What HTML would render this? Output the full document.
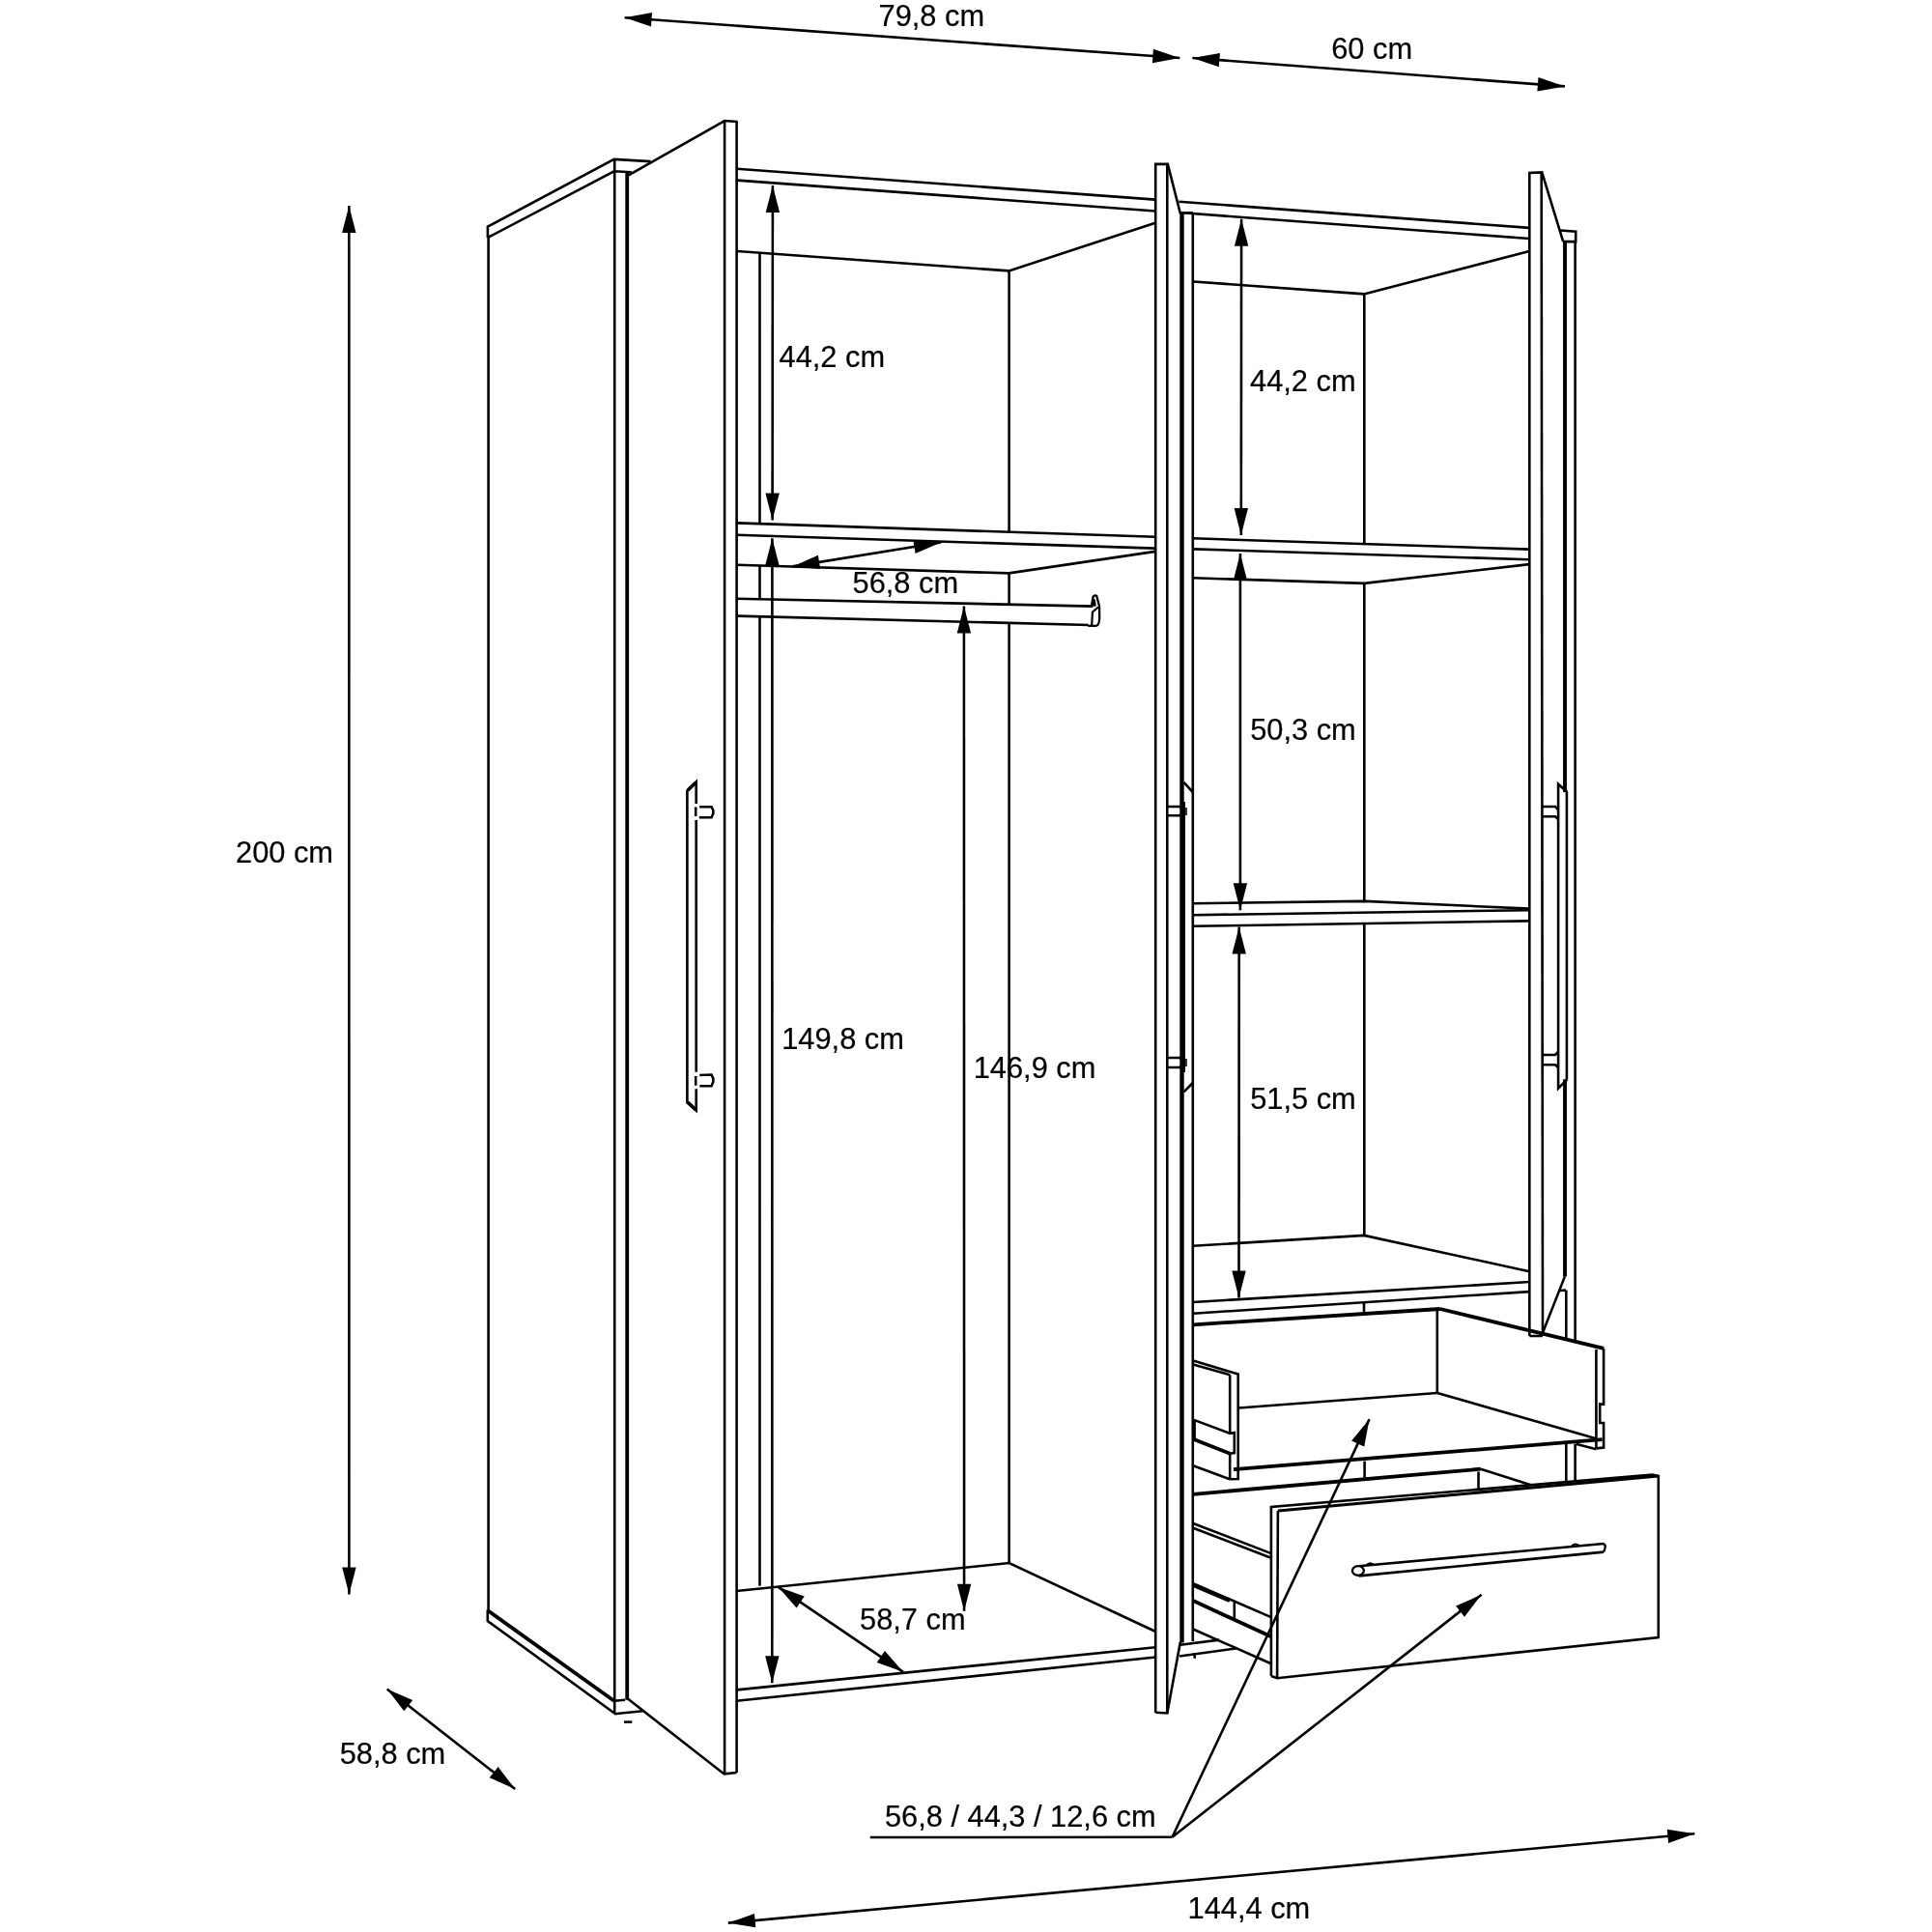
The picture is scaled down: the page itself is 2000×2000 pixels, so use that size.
<!DOCTYPE html>
<html><head><meta charset="utf-8"><style>
html,body{margin:0;padding:0;background:#fff;}
svg{display:block;will-change:transform;}
text{font-family:"Liberation Sans",sans-serif;font-size:30.8px;fill:#000;stroke:#000;stroke-width:0.2px;-webkit-font-smoothing:antialiased;}
</style></head><body>
<svg width="2000" height="2000" viewBox="0 0 2000 2000">
<rect width="2000" height="2000" fill="#fff"/>
<g stroke="#000" stroke-linejoin="miter" stroke-linecap="butt" fill="none">
<polyline points="646.6,18.3 1221.3,60.0" stroke-width="2.6" fill="none"/>
<polygon points="1221.3,60.0 1192.9,65.2 1193.9,50.8" fill="#000" stroke="none"/>
<polygon points="646.6,18.3 675.0,13.1 674.0,27.5" fill="#000" stroke="none"/>
<polyline points="1234.4,60.0 1619.9,89.4" stroke-width="2.6" fill="none"/>
<polygon points="1619.9,89.4 1591.4,94.4 1592.5,80.1" fill="#000" stroke="none"/>
<polygon points="1234.4,60.0 1262.9,55.0 1261.8,69.3" fill="#000" stroke="none"/>
<polyline points="361.3,212.9 361.4,1650.5" stroke-width="2.6" fill="none"/>
<polygon points="361.4,1650.5 354.2,1622.5 368.6,1622.5" fill="#000" stroke="none"/>
<polygon points="361.3,212.9 368.5,240.9 354.1,240.9" fill="#000" stroke="none"/>
<polyline points="400.7,1748.4 533.2,1851.9" stroke-width="2.6" fill="none"/>
<polygon points="533.2,1851.9 506.7,1840.3 515.6,1829.0" fill="#000" stroke="none"/>
<polygon points="400.7,1748.4 427.2,1760.0 418.3,1771.3" fill="#000" stroke="none"/>
<polyline points="753.8,1990.6 1754.3,1898.3" stroke-width="2.6" fill="none"/>
<polygon points="1754.3,1898.3 1727.1,1908.0 1725.8,1893.7" fill="#000" stroke="none"/>
<polygon points="753.8,1990.6 781.0,1980.9 782.3,1995.2" fill="#000" stroke="none"/>
<polyline points="799.9,191.9 799.6,538.6" stroke-width="2.6" fill="none"/>
<polygon points="799.6,538.6 792.4,510.6 806.8,510.6" fill="#000" stroke="none"/>
<polygon points="799.9,191.9 807.1,219.9 792.7,219.9" fill="#000" stroke="none"/>
<polyline points="799.4,557.3 799.3,1742.2" stroke-width="2.6" fill="none"/>
<polygon points="799.3,1742.2 792.1,1714.2 806.5,1714.2" fill="#000" stroke="none"/>
<polygon points="799.4,557.3 806.6,585.3 792.2,585.3" fill="#000" stroke="none"/>
<polyline points="820.4,586.4 974.1,561.5" stroke-width="2.6" fill="none"/>
<polygon points="974.1,561.5 947.6,573.1 945.3,558.9" fill="#000" stroke="none"/>
<polygon points="820.4,586.4 846.9,574.8 849.2,589.0" fill="#000" stroke="none"/>
<polyline points="997.9,627.6 998.1,1667.7" stroke-width="2.6" fill="none"/>
<polygon points="998.1,1667.7 990.9,1639.7 1005.3,1639.7" fill="#000" stroke="none"/>
<polygon points="997.9,627.6 1005.1,655.6 990.7,655.6" fill="#000" stroke="none"/>
<polyline points="805.5,1642.8 935.0,1730.8" stroke-width="2.6" fill="none"/>
<polygon points="935.0,1730.8 907.8,1721.0 915.9,1709.1" fill="#000" stroke="none"/>
<polygon points="805.5,1642.8 832.7,1652.6 824.6,1664.5" fill="#000" stroke="none"/>
<polyline points="1285.1,226.8 1284.8,554.0" stroke-width="2.6" fill="none"/>
<polygon points="1284.8,554.0 1277.6,526.0 1292.0,526.0" fill="#000" stroke="none"/>
<polygon points="1285.1,226.8 1292.3,254.8 1277.9,254.8" fill="#000" stroke="none"/>
<polyline points="1283.9,573.0 1283.9,942.2" stroke-width="2.6" fill="none"/>
<polygon points="1283.9,942.2 1276.7,914.2 1291.1,914.2" fill="#000" stroke="none"/>
<polygon points="1283.9,573.0 1291.1,601.0 1276.7,601.0" fill="#000" stroke="none"/>
<polyline points="1282.7,959.6 1282.5,1343.4" stroke-width="2.6" fill="none"/>
<polygon points="1282.5,1343.4 1275.3,1315.4 1289.7,1315.4" fill="#000" stroke="none"/>
<polygon points="1282.7,959.6 1289.9,987.6 1275.5,987.6" fill="#000" stroke="none"/>
<polyline points="900.8,1902.0 1213.5,1901.8" stroke-width="2.6" fill="none"/>
<polyline points="1213.5,1901.8 1417.6,1469.1" stroke-width="2.6" fill="none"/>
<polygon points="1417.6,1469.1 1412.2,1497.5 1399.1,1491.4" fill="#000" stroke="none"/>
<polyline points="1213.5,1901.8 1533.6,1650.8" stroke-width="2.6" fill="none"/>
<polygon points="1533.6,1650.8 1516.0,1673.7 1507.1,1662.4" fill="#000" stroke="none"/>
<polyline points="504.9,246.0 504.9,234.6 635.7,164.9 673.5,167.1" stroke-width="2.6" fill="none"/>
<polyline points="504.9,246.0 635.7,177.3 653.8,178.3" stroke-width="2.6" fill="none"/>
<polyline points="505.6,246.0 505.6,1667.7" stroke-width="2.6" fill="none"/>
<polyline points="636.2,164.9 636.2,1774.3" stroke-width="2.6" fill="none"/>
<polyline points="649.2,178.8 649.2,1759.8" stroke-width="3.8" fill="none"/>
<polyline points="504.8,1666.6 504.8,1678.0 635.7,1773.3" stroke-width="2.6" fill="none"/>
<polyline points="505.7,1667.7 635.7,1760.8" stroke-width="3.8" fill="none"/>
<polyline points="635.7,1760.8 647.0,1759.8" stroke-width="2.6" fill="none"/>
<polyline points="635.7,1774.3 665.7,1771.2" stroke-width="2.6" fill="none"/>
<polyline points="646.0,1782.6 654.3,1782.6" stroke-width="2.6" fill="none"/>
<polyline points="650.7,181.4 750.1,125.0 763.6,126.0" stroke-width="2.6" fill="none"/>
<polyline points="750.1,125.0 750.1,1836.4" stroke-width="2.6" fill="none"/>
<polyline points="762.6,126.0 762.6,1835.0" stroke-width="2.6" fill="none"/>
<polyline points="650.2,1758.8 749.6,1836.4 762.6,1835.0" stroke-width="2.6" fill="none"/>
<polyline points="720.7,831.9 720.7,809.4 711.4,818.5 711.4,1141.3 720.7,1149.5 720.7,1127.3" stroke-width="2.6" fill="none"/>
<polyline points="712.0,818.0 720.5,810.0" stroke-width="3.6" fill="none"/>
<polyline points="712.0,1141.0 720.5,1149.0" stroke-width="3.6" fill="none"/>
<polyline points="720.7,849.0 720.7,1109.7" stroke-width="2.6" fill="none"/>
<polyline points="720.2,835.5 720.2,844.9" stroke-width="2.6" fill="none"/>
<polyline points="720.2,1114.0 720.2,1123.7" stroke-width="2.6" fill="none"/>
<polyline points="724.1,835.3 736.5,835.3 738.3,838.7 738.3,842.3 736.5,846.2 723.8,846.2" stroke-width="2.6" fill="none"/>
<polyline points="724.3,1113.0 736.5,1112.5 738.3,1116.4 738.3,1120.0 736.5,1124.2 724.3,1124.2" stroke-width="2.6" fill="none"/>
<polyline points="763.0,174.7 1196.0,206.6" stroke-width="2.6" fill="none"/>
<polyline points="763.0,186.6 1196.0,218.5" stroke-width="2.6" fill="none"/>
<polyline points="763.0,260.0 1044.5,280.4 1196.0,230.7" stroke-width="2.6" fill="none"/>
<polyline points="1044.6,280.4 1044.6,550.3" stroke-width="2.6" fill="none"/>
<polyline points="1044.6,593.4 1044.6,626.0" stroke-width="2.6" fill="none"/>
<polyline points="1044.6,645.0 1044.6,1618.0" stroke-width="2.6" fill="none"/>
<polyline points="786.5,262.0 786.5,541.0" stroke-width="2.6" fill="none"/>
<polyline points="786.5,586.0 786.5,619.7" stroke-width="2.6" fill="none"/>
<polyline points="786.5,637.6 786.5,1641.8" stroke-width="2.6" fill="none"/>
<polyline points="762.6,541.4 1196.0,555.7" stroke-width="2.6" fill="none"/>
<polyline points="762.6,553.8 1196.0,567.6" stroke-width="2.6" fill="none"/>
<polyline points="762.6,584.8 1044.5,593.4 1196.0,570.9" stroke-width="2.6" fill="none"/>
<polyline points="762.6,619.7 1131.3,627.6" stroke-width="2.6" fill="none"/>
<polyline points="762.6,637.6 1126.7,647.0" stroke-width="2.6" fill="none"/>
<path d="M1129.8,627.7 L1131.7,617.5 Q1133,615.8 1135.2,616.8 L1138,627.5 L1138.2,640.3 Q1137.8,647.6 1134.5,647.8 L1126.3,647.8" fill="none" stroke-width="2.3"/>
<path d="M1131.4,627.6 L1132.6,620.5 L1133.8,627.6 M1137,628.5 L1131,633.5 L1130.6,640 L1130.2,647" fill="none" stroke-width="2.2"/>
<polyline points="762.5,1647.0 1044.7,1618.0 1196.3,1689.0" stroke-width="2.6" fill="none"/>
<polyline points="762.5,1749.4 1196.3,1705.2" stroke-width="2.6" fill="none"/>
<polyline points="762.5,1760.8 1196.3,1715.5" stroke-width="2.6" fill="none"/>
<polyline points="1196.2,1773.0 1196.2,169.9 1208.8,169.9 1221.7,220.3 1235.0,220.3" stroke-width="2.6" fill="none"/>
<polyline points="1208.3,169.9 1208.3,1773.5" stroke-width="2.6" fill="none"/>
<polyline points="1223.5,220.3 1223.5,1700.5" stroke-width="4.4" fill="none"/>
<polyline points="1234.8,220.3 1234.8,1699.0" stroke-width="2.6" fill="none"/>
<polyline points="1196.3,1772.7 1208.3,1773.5 1221.9,1699.7" stroke-width="2.6" fill="none"/>
<polyline points="1225.5,809.8 1234.8,820.0" stroke-width="2.6" fill="none"/>
<polyline points="1234.8,1121.0 1225.5,1130.3" stroke-width="2.6" fill="none"/>
<polyline points="1208.3,835.0 1221.0,835.0 1225.0,838.0" stroke-width="2.6" fill="none"/>
<polyline points="1208.3,844.3 1221.0,844.3 1225.0,841.0" stroke-width="2.6" fill="none"/>
<polyline points="1228.0,836.0 1228.0,844.0" stroke-width="1.6" fill="none"/>
<polyline points="1208.3,1095.0 1221.0,1095.0 1225.0,1098.0" stroke-width="2.6" fill="none"/>
<polyline points="1208.3,1105.0 1221.0,1105.0 1225.0,1102.0" stroke-width="2.6" fill="none"/>
<polyline points="1228.0,1096.0 1228.0,1104.0" stroke-width="1.6" fill="none"/>
<polyline points="1226.0,830.0 1226.0,1110.0" stroke-width="2.0" fill="none"/>
<polyline points="1221.9,1702.8 1262.0,1697.6" stroke-width="2.6" fill="none"/>
<polyline points="1221.1,1714.5 1281.0,1706.2" stroke-width="2.6" fill="none"/>
<polyline points="1236.7,1711.0 1236.7,1716.8" stroke-width="2.6" fill="none"/>
<polyline points="1220.4,208.7 1583.3,235.9" stroke-width="2.6" fill="none"/>
<polyline points="1224.3,220.3 1583.3,247.0" stroke-width="2.6" fill="none"/>
<polyline points="1235.5,291.5 1412.0,304.4 1583.3,259.9" stroke-width="2.6" fill="none"/>
<polyline points="1412.3,304.4 1412.3,563.1" stroke-width="2.6" fill="none"/>
<polyline points="1412.3,603.9 1412.3,932.9" stroke-width="2.6" fill="none"/>
<polyline points="1412.3,955.4 1412.3,1278.9" stroke-width="2.6" fill="none"/>
<polyline points="1234.7,557.3 1583.1,568.6" stroke-width="2.6" fill="none"/>
<polyline points="1234.7,568.4 1583.1,579.2" stroke-width="2.6" fill="none"/>
<polyline points="1234.7,598.3 1412.3,603.9 1583.1,584.1" stroke-width="2.6" fill="none"/>
<polyline points="1234.7,935.2 1412.4,932.9 1582.9,940.6" stroke-width="2.6" fill="none"/>
<polyline points="1234.7,947.2 1582.9,942.2" stroke-width="2.6" fill="none"/>
<polyline points="1234.7,958.8 1582.9,953.4" stroke-width="2.6" fill="none"/>
<polyline points="1235.1,1289.8 1412.1,1278.9 1583.3,1316.2" stroke-width="2.6" fill="none"/>
<polyline points="1235.1,1348.0 1583.3,1327.0" stroke-width="2.6" fill="none"/>
<polyline points="1235.1,1359.7 1583.3,1337.1" stroke-width="2.6" fill="none"/>
<polyline points="1412.0,1348.8 1412.0,1358.9" stroke-width="2.6" fill="none"/>
<polyline points="1583.3,1383.0 1583.3,178.9 1596.2,178.4 1618.2,250.1" stroke-width="2.6" fill="none"/>
<polyline points="1595.7,178.6 1597.0,1383.0" stroke-width="2.6" fill="none"/>
<polyline points="1620.0,250.0 1620.0,820.0" stroke-width="3.9" fill="none"/>
<polyline points="1621.9,820.0 1621.9,1117.3" stroke-width="2.6" fill="none"/>
<polyline points="1620.0,1117.3 1620.0,1321.6" stroke-width="3.9" fill="none"/>
<polyline points="1615.6,238.5 1631.2,239.8 1631.2,250.1 1618.0,250.1" stroke-width="2.6" fill="none"/>
<polyline points="1630.6,250.0 1630.6,1387.6" stroke-width="2.6" fill="none"/>
<polyline points="1583.3,1383.0 1595.7,1383.0 1619.8,1321.6" stroke-width="2.6" fill="none"/>
<polyline points="1615.0,1336.0 1621.0,1335.6" stroke-width="2.6" fill="none"/>
<polyline points="1621.3,1335.6 1621.3,1385.3" stroke-width="2.6" fill="none"/>
<polyline points="1622.4,820.0 1613.1,811.7 1613.1,1126.6 1622.4,1117.3" stroke-width="2.6" fill="none"/>
<polyline points="1596.0,835.0 1610.0,835.0 1613.0,838.0" stroke-width="2.6" fill="none"/>
<polyline points="1596.0,845.2 1610.0,845.2 1613.0,848.0" stroke-width="2.6" fill="none"/>
<polyline points="1596.0,1092.0 1610.0,1092.0 1613.0,1089.0" stroke-width="2.6" fill="none"/>
<polyline points="1596.0,1102.3 1610.0,1102.3 1613.0,1105.0" stroke-width="2.6" fill="none"/>
<polyline points="1621.3,1494.8 1621.3,1533.6" stroke-width="2.6" fill="none"/>
<polyline points="1630.6,1494.8 1630.6,1533.6" stroke-width="2.6" fill="none"/>
<polyline points="1235.1,1371.3 1490.9,1355.0" stroke-width="3.8" fill="none"/>
<polyline points="1490.9,1355.0 1660.1,1395.8" stroke-width="3.8" fill="none"/>
<polyline points="1487.8,1357.0 1487.8,1442.0" stroke-width="2.6" fill="none"/>
<polyline points="1282.5,1457.5 1487.8,1442.0" stroke-width="2.6" fill="none"/>
<polyline points="1487.8,1442.0 1652.4,1489.3" stroke-width="2.6" fill="none"/>
<polyline points="1652.4,1396.9 1652.4,1499.4" stroke-width="2.6" fill="none"/>
<polyline points="1660.1,1395.8 1660.1,1453.6 1656.2,1453.6 1656.2,1473.0 1660.1,1473.0 1660.1,1498.6 1652.4,1499.4" stroke-width="2.6" fill="none"/>
<polyline points="1277.0,1521.1 1658.6,1490.1" stroke-width="3.8" fill="none"/>
<polyline points="1235.1,1408.6 1281.7,1422.5 1281.7,1531.0 1273.2,1531.2" stroke-width="2.6" fill="none"/>
<polyline points="1235.1,1412.5 1273.2,1423.3" stroke-width="2.6" fill="none"/>
<polyline points="1273.2,1423.3 1273.2,1483.5" stroke-width="2.6" fill="none"/>
<polyline points="1273.2,1504.8 1273.2,1531.2" stroke-width="2.6" fill="none"/>
<polyline points="1236.3,1470.5 1236.3,1491.0" stroke-width="3.2" fill="none"/>
<polyline points="1235.9,1469.9 1273.2,1483.9 1277.8,1483.1 1277.8,1504.1 1273.2,1504.8" stroke-width="2.6" fill="none"/>
<polyline points="1273.2,1504.8 1235.9,1490.1" stroke-width="3.8" fill="none"/>
<polyline points="1235.1,1517.3 1273.2,1531.2" stroke-width="2.6" fill="none"/>
<polyline points="1412.6,1512.6 1412.6,1529.7" stroke-width="2.6" fill="none"/>
<polyline points="1631.4,1494.8 1652.4,1500.2" stroke-width="2.6" fill="none"/>
<polyline points="1235.1,1546.8 1532.8,1520.7" stroke-width="3.8" fill="none"/>
<polyline points="1532.8,1520.7 1585.6,1537.5" stroke-width="2.6" fill="none"/>
<polyline points="1530.5,1523.5 1530.5,1541.3" stroke-width="2.6" fill="none"/>
<polyline points="1315.9,1735.0 1315.9,1560.0 1710.6,1526.6 1716.8,1528.1 1716.8,1695.0 1322.1,1737.2 1315.9,1735.0" stroke-width="2.6" fill="none"/>
<polyline points="1322.9,1563.9 1716.8,1528.1" stroke-width="3.0" fill="none"/>
<polyline points="1322.9,1563.9 1322.1,1737.2" stroke-width="2.6" fill="none"/>
<polyline points="1406.7,1621.3 1660.1,1598.0" stroke-width="2.6" fill="none"/>
<polyline points="1406.7,1631.4 1660.1,1606.6" stroke-width="2.6" fill="none"/>
<path d="M1660.1,1598 Q1662.5,1599.5 1661.5,1603 L1660.1,1606.6" fill="none" stroke-width="2.3"/>
<path d="M1414.5,1620.5 Q1417.6,1616.5 1422,1619.8" fill="none" stroke-width="2.0"/>
<path d="M1626.5,1601 Q1630,1596.5 1635,1600.2" fill="none" stroke-width="2.0"/>
<ellipse cx="1405.9" cy="1626" rx="6" ry="4.8" fill="#fff" stroke-width="2.3"/>
<polyline points="1235.1,1577.0 1315.9,1608.1" stroke-width="2.6" fill="none"/>
<polyline points="1235.1,1581.7 1315.9,1612.8" stroke-width="2.6" fill="none"/>
<polyline points="1235.1,1639.2 1315.9,1674.1" stroke-width="2.6" fill="none"/>
<polyline points="1235.1,1641.0 1273.0,1657.0" stroke-width="3.8" fill="none"/>
<polyline points="1277.8,1658.6 1277.8,1675.6" stroke-width="2.6" fill="none"/>
<polyline points="1235.1,1657.0 1315.9,1694.3" stroke-width="3.8" fill="none"/>
<polyline points="1235.1,1686.5 1315.9,1722.2" stroke-width="2.6" fill="none"/>
</g>
<text x="909.5" y="26.9">79,8 cm</text>
<text x="1378.2" y="61.1">60 cm</text>
<text x="244.0" y="893.3">200 cm</text>
<text x="806.5" y="379.5">44,2 cm</text>
<text x="1294.0" y="405.4">44,2 cm</text>
<text x="882.5" y="614.3">56,8 cm</text>
<text x="809.2" y="1085.6">149,8 cm</text>
<text x="1007.7" y="1115.5">146,9 cm</text>
<text x="1294.2" y="765.5">50,3 cm</text>
<text x="1294.2" y="1147.8">51,5 cm</text>
<text x="890.0" y="1686.7">58,7 cm</text>
<text x="351.7" y="1825.5">58,8 cm</text>
<text x="915.9" y="1891.4">56,8 / 44,3 / 12,6 cm</text>
<text x="1229.6" y="1985.7">144,4 cm</text>
</svg>
</body></html>
